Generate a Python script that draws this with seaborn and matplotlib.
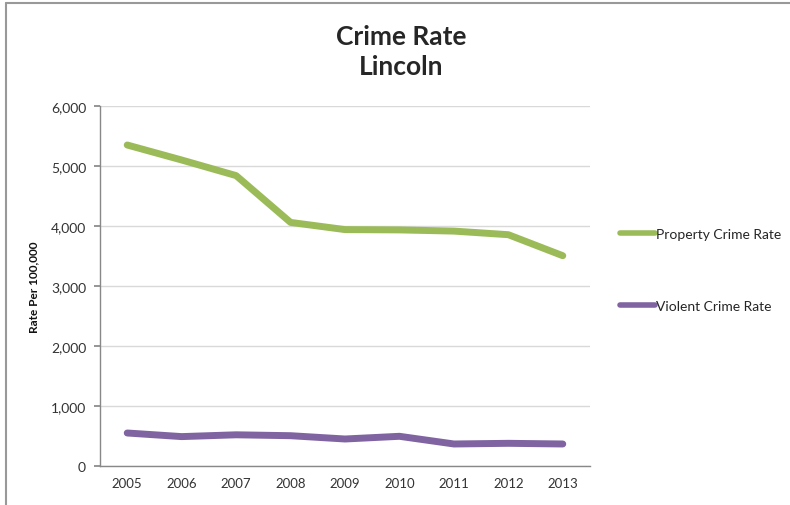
import matplotlib
matplotlib.use("Agg")
import matplotlib.pyplot as plt
import matplotlib.ticker as mticker
from matplotlib.lines import Line2D
import numpy as np
import pandas as pd
import seaborn as sns

# data
years = [2005, 2006, 2007, 2008, 2009, 2010, 2011, 2012, 2013]
property_rate = [5350, 5100, 4840, 4060, 3940, 3935, 3915, 3855, 3505]
violent_rate = [550, 490, 520, 505, 450, 495, 367, 378, 367]
series_names = ["Property Crime Rate", "Violent Crime Rate"]
y_ticks = [0, 1000, 2000, 3000, 4000, 5000, 6000]

df = pd.DataFrame({
    "year": years * 2,
    "rate": property_rate + violent_rate,
    "series": [series_names[0]] * len(years) + [series_names[1]] * len(years),
})

sns.set_theme(style="white")
plt.rcParams["font.family"] = ["Lato", "DejaVu Sans"]

fig = plt.figure(figsize=(7.9, 5.06), dpi=100)
ax = fig.add_axes([100 / 790, 39 / 506, 490 / 790, 360 / 506])

palette = {series_names[0]: "#9BBB59", series_names[1]: "#8064A2"}
sns.lineplot(data=df, x="year", y="rate", hue="series", palette=palette,
             linewidth=5, solid_capstyle="round", solid_joinstyle="round",
             ax=ax, legend=False)

ax.set_xlim(years[0] - 0.5, years[-1] + 0.5)
ax.set_ylim(y_ticks[0], y_ticks[-1])
ax.set_xticks(years)
ax.set_xticks(np.array(years[:-1]) + 0.5, minor=True)
ax.set_yticks(y_ticks)
ax.yaxis.set_major_formatter(mticker.FuncFormatter(lambda v, p: f"{int(v):,}"))

ax.grid(axis="y", color="#d9d9d9", linewidth=1)
ax.set_axisbelow(True)
for side in ("top", "right"):
    ax.spines[side].set_visible(False)
for side in ("left", "bottom"):
    ax.spines[side].set_color("#888888")
    ax.spines[side].set_linewidth(1)

ax.tick_params(axis="x", which="major", length=0, pad=8, labelsize=9.5, labelcolor="#333333")
ax.tick_params(axis="x", which="minor", length=4, color="#888888", direction="out")
ax.tick_params(axis="y", length=4, color="#888888", direction="out", pad=6,
               labelsize=10, labelcolor="#333333", left=True)
ax.set_xlabel("")
ax.set_ylabel("Rate Per 100,000", fontsize=8.5, fontweight="bold", color="#111111", labelpad=8)

fig.text(401 / 790, 1 - 52 / 506, "Crime Rate\nLincoln", ha="center", va="center",
         fontsize=19, fontweight="bold", linespacing=1.3)

handles = [Line2D([0], [0], color=palette[n], linewidth=4, solid_capstyle="round")
           for n in series_names]
fig.legend(handles, series_names, loc="center left",
           bbox_to_anchor=(620 / 790, 1 - 271 / 506), frameon=False,
           fontsize=10, handlelength=2.5, handletextpad=0.1, labelspacing=4.3,
           borderpad=0, borderaxespad=0)

# screenshot frame (top and left edges)
fig.add_artist(Line2D([6 / 790, 1], [1 - 4 / 506, 1 - 4 / 506], transform=fig.transFigure,
                      color="#999999", linewidth=1.5))
fig.add_artist(Line2D([6 / 790, 6 / 790], [0, 1 - 4 / 506], transform=fig.transFigure,
                      color="#999999", linewidth=1.5))

fig.savefig("out.png", dpi=100)
